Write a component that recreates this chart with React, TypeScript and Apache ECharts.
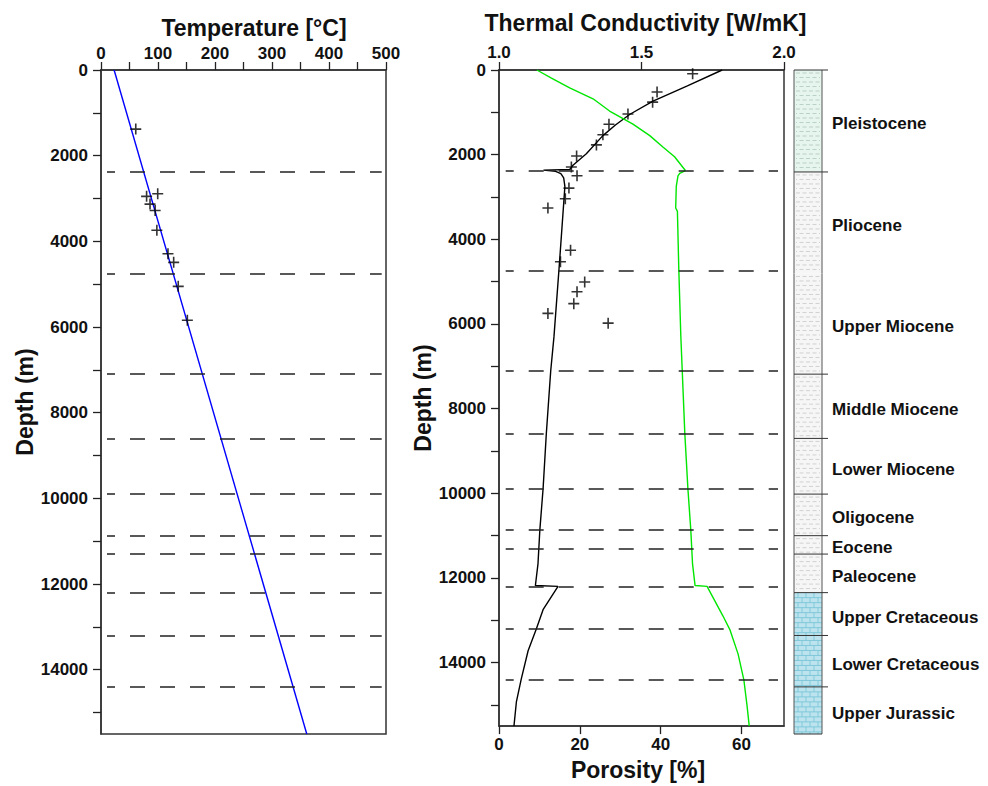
import React, { useEffect, useRef } from 'react';
import * as echarts from 'echarts';

const FONT = "'Liberation Sans', Arial, Helvetica, sans-serif";

// ---- tick values ----
const depthTickValues = [0, 1000, 2000, 3000, 4000, 5000, 6000, 7000, 8000, 9000, 10000, 11000, 12000, 13000, 14000, 15000];
const depthLabelValues = [0, 2000, 4000, 6000, 8000, 10000, 12000, 14000];
const temperatureTickValues = [0, 50, 100, 150, 200, 250, 300, 350, 400, 450, 500];
const temperatureLabelValues = [0, 100, 200, 300, 400, 500];
const conductivityTickValues = [1.0, 1.5, 2.0];
const porosityTickValues = [0, 20, 40, 60];

// ---- formation boundaries (m) ----
const boundaryDepths = [2380, 4750, 7100, 8600, 9900, 10870, 11300, 12200, 13200, 14400];

// ---- temperature [°C, depth m] ----
const temperatureTrend = [[23, 0], [361, 15500]];
const temperaturePoints = [
  [61, 1380], [80, 2950], [99.5, 2890], [86, 3130], [95, 3280], [98, 3740],
  [117.5, 4290], [127.5, 4490], [135.5, 5050], [151.5, 5840],
];

// ---- porosity [%, depth m] ----
const porosityCurve = [
  [55.2, 0], [46.6, 375], [38.1, 735], [32.4, 1045], [28.8, 1300], [25.7, 1550],
  [21.6, 1980], [18.3, 2250], [17.5, 2350], [11.0, 2365], [14.0, 2395], [15.3, 2450],
  [16.0, 2550], [16.3, 2750], [15.0, 4500], [13.6, 6300], [12.8, 7100], [11.7, 8600],
  [10.9, 9900], [10.1, 10870], [9.65, 11660], [9.0, 12180], [14.6, 12200], [10.9, 12750],
  [9.25, 13200], [7.2, 13720], [5.5, 14390], [4.3, 14930], [3.7, 15500],
];
const porosityPoints = [
  [47.9, 90], [39.1, 520], [38.0, 760], [31.9, 1040], [27.2, 1280], [25.7, 1530],
  [24.1, 1770], [19.2, 2030], [17.9, 2290], [19.3, 2500], [17.3, 2790], [16.4, 3040],
  [12.1, 3260], [17.7, 4260], [15.2, 4530], [21.2, 5010], [19.3, 5240], [18.5, 5520],
  [12.1, 5750], [27.0, 5980],
];

// ---- thermal conductivity [W/mK, depth m] ----
const conductivityCurve = [
  [1.133, 0], [1.184, 190], [1.248, 420], [1.33, 680], [1.388, 970], [1.47, 1280],
  [1.529, 1550], [1.575, 1820], [1.616, 2050], [1.654, 2375], [1.634, 2440], [1.628, 2500],
  [1.622, 2750], [1.62, 3260], [1.626, 3340], [1.631, 4740], [1.638, 6290], [1.643, 7110],
  [1.652, 8590], [1.663, 9910], [1.673, 10870], [1.679, 11660], [1.688, 12180], [1.73, 12200],
  [1.786, 12900], [1.81, 13220], [1.839, 13800], [1.859, 14400], [1.87, 15000], [1.878, 15500],
];

// ---- stratigraphy ----
const formations = [
  'Pleistocene', 'Pliocene', 'Upper Miocene', 'Middle Miocene', 'Lower Miocene',
  'Oligocene', 'Eocene', 'Paleocene', 'Upper Cretaceous', 'Lower Cretaceous', 'Upper Jurassic',
];
const formationTops = [0, 2380, 4750, 7100, 8600, 9900, 10870, 11300, 12200, 13200, 14400];
const formationBases = [2380, 4750, 7100, 8600, 9900, 10870, 11300, 12200, 13200, 14400, 15500];
const formationLithology = [
  'green-shale', 'shale', 'shale', 'shale', 'shale', 'shale', 'shale', 'shale',
  'limestone', 'limestone', 'limestone',
];
const formationTopMarked = [true, true, false, true, true, true, true, true, true, true, true];

const DEPTH_MAX = 15500;

const labelStyle = { fontSize: 17, fontWeight: 'bold', color: '#111', fontFamily: FONT };
const nameStyle = { fontSize: 23, fontWeight: 'bold', color: '#111', fontFamily: FONT };
const axisLineStyle = { show: true, lineStyle: { color: '#333', width: 1.5 } };
const tickStyle = { lineStyle: { color: '#222', width: 1.3 } };

function depthAxis(gridIndex: number) {
  return {
    type: 'value',
    gridIndex,
    inverse: true,
    min: 0,
    max: DEPTH_MAX,
    name: 'Depth (m)',
    nameLocation: 'middle',
    nameRotate: 90,
    nameGap: 60,
    nameTextStyle: nameStyle,
    axisLine: axisLineStyle,
    axisTick: { show: true, inside: false, length: 8, customValues: depthTickValues, ...tickStyle },
    axisLabel: { ...labelStyle, margin: 13, customValues: depthLabelValues, formatter: (v: number) => String(v) },
    splitLine: { show: false },
  };
}

const plusSymbol = 'path://M0,5L10,5M5,0L5,10';

function boundaryMarkLine(x0: number, x1: number) {
  return {
    silent: true,
    symbol: ['none', 'none'],
    label: { show: false },
    lineStyle: { type: [15, 15], dashOffset: 7, color: '#222', width: 1.5 },
    data: boundaryDepths.map((d) => [{ coord: [x0, d] }, { coord: [x1, d] }]),
  };
}

export default function App() {
  const ref = useRef<HTMLDivElement>(null);

  useEffect(() => {
    if (!ref.current) return;
    const chart = echarts.init(ref.current, undefined, { renderer: 'svg' });

    const option: any = {
      animation: false,
      backgroundColor: '#fff',
      textStyle: { fontFamily: FONT },
      grid: [
        { left: 101, top: 70, width: 285, height: 664, show: true, borderColor: '#333', borderWidth: 1.5, backgroundColor: 'transparent' },
        { left: 499, top: 70, width: 285, height: 664, show: true, borderColor: '#333', borderWidth: 1.5, backgroundColor: 'transparent' },
        { left: 794, top: 70, width: 28, height: 664, show: false },
      ],
      xAxis: [
        {
          type: 'value', gridIndex: 0, position: 'top', min: 0, max: 500,
          name: 'Temperature [°C]', nameLocation: 'middle', nameGap: 31,
          nameTextStyle: { ...nameStyle, padding: [0, 0, 0, 21] },
          axisLine: axisLineStyle,
          axisTick: { show: true, inside: false, length: 8, customValues: temperatureTickValues, ...tickStyle },
          axisLabel: { ...labelStyle, margin: 8, customValues: temperatureLabelValues, formatter: (v: number) => String(v) },
          splitLine: { show: false },
        },
        {
          type: 'value', gridIndex: 1, position: 'top', min: 1, max: 2,
          name: 'Thermal Conductivity [W/mK]', nameLocation: 'middle', nameGap: 36,
          nameTextStyle: { ...nameStyle, padding: [0, 0, 0, 8] },
          axisLine: axisLineStyle,
          axisTick: { show: true, inside: false, length: 8, customValues: conductivityTickValues, ...tickStyle },
          axisLabel: { ...labelStyle, margin: 9, customValues: conductivityTickValues, formatter: (v: number) => v.toFixed(1) },
          splitLine: { show: false },
        },
        {
          type: 'value', gridIndex: 1, position: 'bottom', min: 0, max: 70.5,
          name: 'Porosity [%]', nameLocation: 'middle', nameGap: 30,
          nameTextStyle: { ...nameStyle, padding: [0, 7, 0, 0] },
          axisLine: axisLineStyle,
          axisTick: { show: true, inside: false, length: 8, customValues: porosityTickValues, ...tickStyle },
          axisLabel: { ...labelStyle, margin: 10, customValues: porosityTickValues, formatter: (v: number) => String(v) },
          splitLine: { show: false },
        },
        { type: 'value', gridIndex: 2, min: 0, max: 1, show: false },
      ],
      yAxis: [
        depthAxis(0),
        depthAxis(1),
        { type: 'value', gridIndex: 2, inverse: true, min: 0, max: DEPTH_MAX, show: false },
      ],
      series: [
        {
          name: 'Temperature trend', type: 'line', xAxisIndex: 0, yAxisIndex: 0,
          data: temperatureTrend, symbol: 'none', z: 3,
          lineStyle: { color: '#0000ff', width: 1.4 },
          markLine: boundaryMarkLine(10.5, 492.5),
        },
        {
          name: 'Temperature data', type: 'scatter', xAxisIndex: 0, yAxisIndex: 0,
          data: temperaturePoints, symbol: plusSymbol, symbolSize: 11, z: 4,
          itemStyle: { color: 'none', borderColor: '#000', borderWidth: 1.6 },
        },
        {
          name: 'Porosity', type: 'line', xAxisIndex: 2, yAxisIndex: 1,
          data: porosityCurve, symbol: 'none', z: 3,
          lineStyle: { color: '#000', width: 1.4 },
        },
        {
          name: 'Porosity data', type: 'scatter', xAxisIndex: 2, yAxisIndex: 1,
          data: porosityPoints, symbol: plusSymbol, symbolSize: 11, z: 4,
          itemStyle: { color: 'none', borderColor: '#000', borderWidth: 1.6 },
        },
        {
          name: 'Thermal conductivity', type: 'line', xAxisIndex: 1, yAxisIndex: 1,
          data: conductivityCurve, symbol: 'none', z: 3,
          lineStyle: { color: '#00e600', width: 1.4 },
          markLine: boundaryMarkLine(1.0235, 1.979),
        },
        {
          name: 'Stratigraphy', type: 'custom', xAxisIndex: 3, yAxisIndex: 2,
          data: formations.map((_, i) => [formationTops[i], formationBases[i]]),
          renderItem: (params: any, api: any) => {
            const i = params.dataIndex;
            const top = api.coord([0, api.value(0)]);
            const bot = api.coord([1, api.value(1)]);
            const x0 = top[0], y0 = top[1], x1 = bot[0], y1 = bot[1];
            const kind = formationLithology[i];
            const children: any[] = [];
            const fill = kind === 'limestone' ? '#bde4ee' : kind === 'green-shale' ? '#e6f5ee' : '#f6f6f6';
            children.push({ type: 'rect', shape: { x: x0, y: y0, width: x1 - x0, height: y1 - y0 }, style: { fill } });
            if (kind === 'limestone') {
              for (let y = y0 + 5; y < y1 - 0.5; y += 5) {
                children.push({ type: 'line', shape: { x1: x0, y1: y, x2: x1, y2: y }, style: { stroke: '#74c3d6', lineWidth: 0.8 } });
              }
              let r = 0;
              for (let y = y0; y < y1 - 1; y += 5, r++) {
                const off = r % 2 === 0 ? 4 : 8;
                for (let x = x0 + off; x < x1 - 1; x += 8) {
                  children.push({ type: 'line', shape: { x1: x, y1: y, x2: x, y2: Math.min(y + 5, y1) }, style: { stroke: '#74c3d6', lineWidth: 0.8 } });
                }
              }
            } else {
              const stroke = kind === 'green-shale' ? '#a9c2b3' : '#c2c2c2';
              let r = 0;
              for (let y = y0 + 3; y < y1 - 1; y += 4.5, r++) {
                children.push({
                  type: 'line', shape: { x1: x0 + 2, y1: y, x2: x1 - 2, y2: y },
                  style: { stroke, lineWidth: 0.7, lineDash: [4, 2.5], lineDashOffset: r % 2 ? 3 : 0 },
                });
              }
            }
            children.push({ type: 'line', shape: { x1: x0, y1: y0, x2: x0, y2: y1 }, style: { stroke: '#555', lineWidth: 1 } });
            children.push({ type: 'line', shape: { x1: x1, y1: y0, x2: x1, y2: y1 }, style: { stroke: '#555', lineWidth: 1 } });
            if (formationTopMarked[i]) {
              children.push({ type: 'line', shape: { x1: x0, y1: y0, x2: x1 + 6, y2: y0 }, style: { stroke: '#333', lineWidth: 1 } });
            }
            if (i === formations.length - 1) {
              children.push({ type: 'line', shape: { x1: x0, y1: y1, x2: x1, y2: y1 }, style: { stroke: '#333', lineWidth: 1 } });
            }
            children.push({
              type: 'text', x: x1 + 10, y: (y0 + y1) / 2 + 3,
              style: {
                text: formations[i], fontSize: 17, fontWeight: 'bold', fontFamily: FONT,
                fill: '#111', align: 'left', verticalAlign: 'middle',
              },
            });
            return { type: 'group', children };
          },
        },
      ],
    };

    chart.setOption(option);
    return () => chart.dispose();
  }, []);

  return <div ref={ref} style={{ position: 'absolute', left: 0, top: 0, width: 988, height: 786 }} />;
}
